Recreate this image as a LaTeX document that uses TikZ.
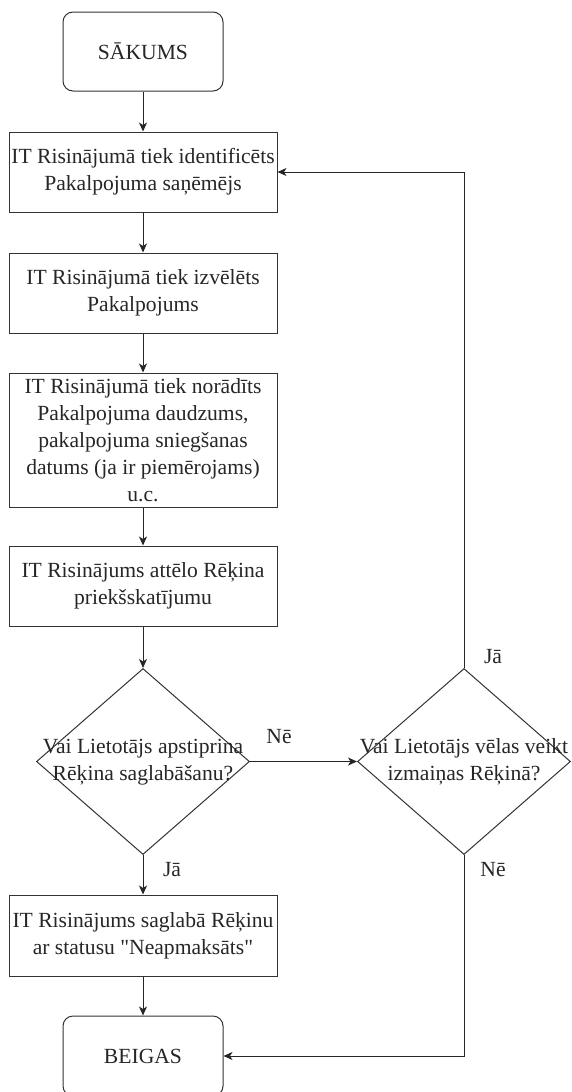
\documentclass[tikz,border=0pt]{standalone}
\usepackage{fontspec}
\setmainfont{Liberation Serif}[Ligatures=TeXOff]
\usetikzlibrary{shapes.geometric,arrows.meta}
\begin{document}
\begin{tikzpicture}[x=1pt,y=-1pt,
  every node/.style={font=\fontsize{21.6}{27}\selectfont, text=black!85},
  proc/.style={draw=black!80, line width=1pt, rectangle, minimum width=268pt, minimum height=80pt, inner sep=0pt, align=center},
  term/.style={draw=black!80, line width=1pt, rectangle, rounded corners=10pt, minimum width=160pt, minimum height=79pt, inner sep=0pt, align=center},
  decision/.style={draw=black!80, line width=1pt, diamond, minimum width=213pt, minimum height=186pt, inner sep=0pt},
  dlabel/.style={align=center, inner sep=0pt},
  flow/.style={draw=black!85, line width=1pt, -{Stealth[length=9pt,width=8pt,inset=2.5pt]}},
  lbl/.style={inner sep=0pt}
]
\useasboundingbox (0,0) rectangle (571,1092);
\fill[white] (0,0) rectangle (571,1092);

\node[term] (start) at (143,51.5) {SĀKUMS};
\node[proc] (b1) at (143,172) {IT Risinājumā tiek identificēts\\Pakalpojuma saņēmējs};
\node[proc] (b2) at (143,293) {IT Risinājumā tiek izvēlēts\\Pakalpojums};
\node[proc, minimum height=134pt] (b3) at (143,440) {IT Risinājumā tiek norādīts\\Pakalpojuma daudzums,\\pakalpojuma sniegšanas\\datums (ja ir piemērojams)\\u.c.};
\node[proc] (b4) at (143,586) {IT Risinājums attēlo Rēķina\\priekšskatījumu};
\node[decision] (d1) at (143,761.5) {};
\node[dlabel] (d1t) at (143,762) {Vai Lietotājs apstiprina\\Rēķina saglabāšanu?};
\node[decision] (d2) at (464,761.5) {};
\node[dlabel] (d2t) at (464,762) {Vai Lietotājs vēlas veikt\\izmaiņas Rēķinā?};
\node[proc, minimum height=81pt] (b5) at (143,935.5) {IT Risinājums saglabā Rēķinu\\ar statusu "Neapmaksāts"};
\node[term, minimum height=80pt] (end) at (143,1056) {BEIGAS};

\draw[flow] (start) -- (b1);
\draw[flow] (b1) -- (b2);
\draw[flow] (b2) -- (b3);
\draw[flow] (b3) -- (b4);
\draw[flow] (b4) -- (d1.north);
\draw[flow] (d1.east) -- (d2.west);
\draw[flow] (d1.south) -- (b5);
\draw[flow] (b5) -- (end);
\draw[flow] (d2.north) |- (b1.east);
\draw[flow] (d2.south) |- (end.east);

\node[lbl] (ne1) at (279,737) {Nē};
\node[lbl] (ja1) at (172,870) {Jā};
\node[lbl] (ja2) at (493,657) {Jā};
\node[lbl] (ne2) at (493,870) {Nē};
\end{tikzpicture}
\end{document}
